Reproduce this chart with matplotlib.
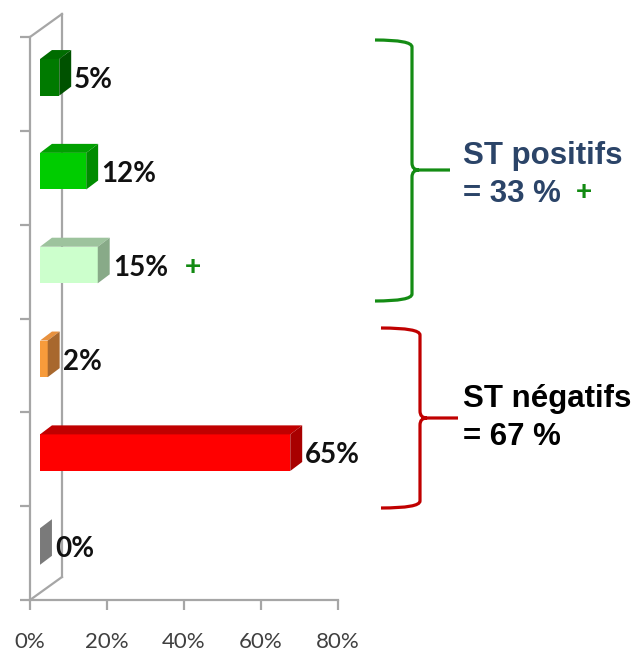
import matplotlib
matplotlib.use('Agg')
import matplotlib.pyplot as plt
from matplotlib.patches import Polygon, PathPatch
from matplotlib.path import Path

# donnees (de bas en haut)
valeurs = [0, 65, 2, 15, 12, 5]
etiquettes = ['0%', '65%', '2%', '15%', '12%', '5%']
couleurs_face = ['#808080', '#FF0000', '#F79B3B', '#CCFFCC', '#00CC00', '#007A00']
couleurs_cote = ['#7A7A7A', '#A80000', '#A8682E', '#88AA88', '#008C00', '#005200']
couleurs_dessus = ['#9A9A9A', '#C00000', '#E8913E', '#9DC39D', '#00A000', '#006C00']
xticks = [0, 20, 40, 60, 80]

# effet 3D
x0 = 2.6      # decalage de la face avant
dx = 3.1      # profondeur en x
dy = 0.096    # profondeur en y
h = 0.39
decal = 0.57
gris = '#A6A6A6'

fig = plt.figure(figsize=(6.37, 6.52), dpi=100)
ax = fig.add_axes([30/637, 52/652, 308/637, 563/652])
ax.set_xlim(0, 80)
ax.set_ylim(0, 6)

# mur du fond
mx, my = 8.3, 0.245
ax.plot([mx, mx], [my, 6 + my], color=gris, lw=1.6, zorder=1, clip_on=False)
ax.plot([0, mx], [6, 6 + my], color=gris, lw=1.6, zorder=1, clip_on=False)
ax.plot([0, mx], [0, my], color=gris, lw=1.6, zorder=1, clip_on=False)

for i, v in enumerate(valeurs):
  yb = i + decal - h / 2
  yt = i + decal + h / 2
  ax.barh(i + decal, v, left=x0, height=h, color=couleurs_face[i], zorder=3)
  r = x0 + v
  dessus = Polygon([(x0, yt), (r, yt), (r + dx, yt + dy), (x0 + dx, yt + dy)],
                   closed=True, facecolor=couleurs_dessus[i], edgecolor='none', zorder=3)
  cote = Polygon([(r, yb), (r + dx, yb + dy), (r + dx, yt + dy), (r, yt)],
                 closed=True, facecolor=couleurs_cote[i], edgecolor='none', zorder=3)
  ax.add_patch(dessus)
  ax.add_patch(cote)
  ax.text(r + dx + 0.8, i + decal - 0.03, etiquettes[i], ha='left', va='center',
          fontsize=20, fontweight='bold', family='Lato', color='#111111', zorder=4)
  if i == 3:
    ax.text(r + dx + 19.5, i + decal - 0.03, '+', ha='left', va='center',
            fontsize=20, fontweight='bold', family='Liberation Sans', color='#128A12')

ax.spines['top'].set_visible(False)
ax.spines['right'].set_visible(False)
for s in ['left', 'bottom']:
  ax.spines[s].set_color(gris)
  ax.spines[s].set_linewidth(1.6)
ax.set_yticks(range(7))
ax.set_yticklabels([])
ax.set_xticks(xticks)
ax.set_xticklabels([str(t) + '%' for t in xticks], family='Lato', fontsize=16, color='#404040')
ax.tick_params(axis='both', color=gris, width=1.6, length=7)
ax.tick_params(axis='x', pad=16)

# accolades
ov = fig.add_axes([0, 0, 1, 1], zorder=5)
ov.set_xlim(0, 637)
ov.set_ylim(652, 0)
ov.axis('off')
ov.patch.set_alpha(0)


def accolade(xe, xm, xt, yh, yp, yb, couleur, r=7):
  verts = [(xe, yh), (xm, yh), (xm, yh + r), (xm, yp - r), (xm, yp), (xm + r, yp), (xt, yp),
           (xm + r, yp), (xm, yp), (xm, yp + r), (xm, yb - r), (xm, yb), (xe, yb)]
  codes = [Path.MOVETO, Path.CURVE3, Path.CURVE3, Path.LINETO, Path.CURVE3, Path.CURVE3, Path.LINETO,
           Path.MOVETO, Path.CURVE3, Path.CURVE3, Path.LINETO, Path.CURVE3, Path.CURVE3]
  ov.add_patch(PathPatch(Path(verts, codes), facecolor='none', edgecolor=couleur, lw=2.3))


accolade(375, 412, 450, 40, 170, 301, '#148C14')
accolade(381, 420, 458, 328, 418, 508, '#C00000')

bleu = '#2B4468'
ov.text(463, 164, 'ST positifs', family='Liberation Sans', fontweight='bold', fontsize=22.5,
        color=bleu, va='baseline')
ov.text(463, 202, '= 33 %', family='Liberation Sans', fontweight='bold', fontsize=22.5,
        color=bleu, va='baseline')
ov.text(576, 200, '+', family='Liberation Sans', fontweight='bold', fontsize=20,
        color='#128A12', va='baseline')
ov.text(463, 407, 'ST négatifs', family='Liberation Sans', fontweight='bold', fontsize=22.5,
        color='black', va='baseline')
ov.text(463, 445, '= 67 %', family='Liberation Sans', fontweight='bold', fontsize=22.5,
        color='black', va='baseline')

fig.savefig('out.png', dpi=100)
